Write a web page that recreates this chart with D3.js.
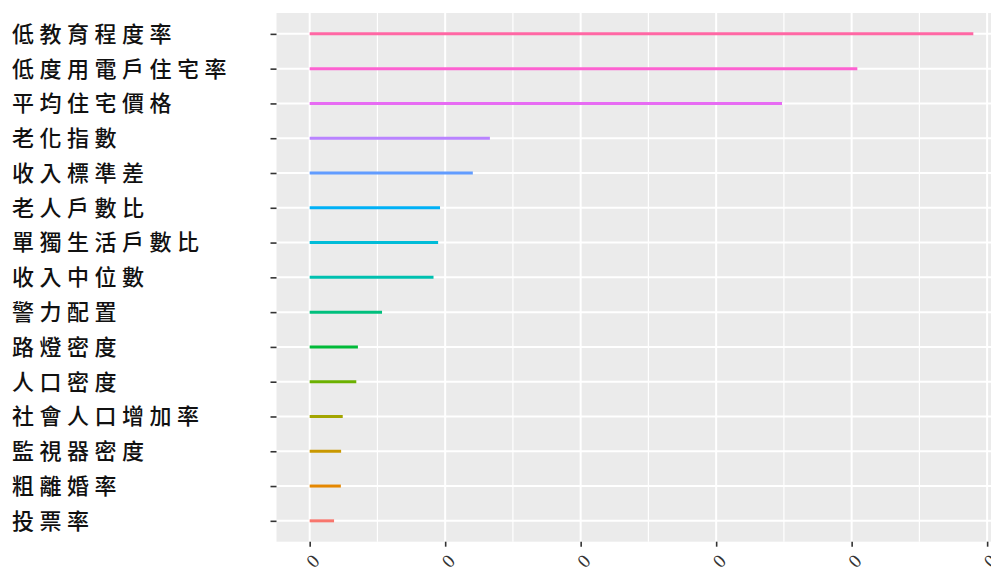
<!DOCTYPE html>
<html>
<head>
<meta charset="utf-8">
<script src="https://cdn.jsdelivr.net/npm/d3@7"></script>
<style>
  html, body { margin: 0; padding: 0; background: #ffffff; overflow: hidden; }
  svg { display: block; }
</style>
</head>
<body>
<div id="chart"></div>
<script>
// Variable importance, ordered from least (bottom) to most (top)
const categories = [
  "投票率", "粗離婚率", "監視器密度", "社會人口增加率", "人口密度",
  "路燈密度", "警力配置", "收入中位數", "單獨生活戶數比", "老人戶數比",
  "收入標準差", "老化指數", "平均住宅價格", "低度用電戶住宅率", "低教育程度率"
];
const importance = [
  0.00090, 0.00115, 0.00116, 0.00122, 0.00172,
  0.00178, 0.00267, 0.00457, 0.00474, 0.00481,
  0.00602, 0.00665, 0.01743, 0.02021, 0.02449
];
const colors = [
  "#F8766D", "#E58700", "#C99800", "#A3A500", "#6BB100",
  "#00BA38", "#00BF7D", "#00C0AF", "#00BCD8", "#00B0F6",
  "#619CFF", "#B983FF", "#E76BF3", "#FD61D1", "#FF67A4"
];
const xTicks = [0, 0.005, 0.01, 0.015, 0.02, 0.025];

const W = 991, H = 571;
const panel = { left: 276.5, top: 13, width: 730, height: 528.7 };

const svg = d3.select("#chart").append("svg")
  .attr("width", W).attr("height", H);

const data = categories.map((c, i) => ({ cat: c, val: importance[i], color: colors[i] }));

// continuous x with 5% expansion on both sides
const maxV = d3.max(importance);
const pad = maxV * 0.05;
const x = d3.scaleLinear()
  .domain([0 - pad, maxV + pad])
  .range([panel.left, panel.left + panel.width]);

// discrete y with 0.6-unit expansion; first category at the bottom
const n = categories.length;
const step = panel.height / (n - 1 + 1.2);
const y = d3.scalePoint()
  .domain(categories)
  .range([panel.top + panel.height - 0.6 * step, panel.top + 0.6 * step]);

const g = svg.append("g");

// panel background
g.append("rect")
  .attr("x", panel.left).attr("y", panel.top)
  .attr("width", panel.width).attr("height", panel.height)
  .attr("fill", "#EBEBEB");

// minor vertical grid
const minorTicks = xTicks.slice(0, -1).map((t, i) => (t + xTicks[i + 1]) / 2);
g.selectAll("line.minor").data(minorTicks).join("line")
  .attr("class", "minor")
  .attr("x1", d => x(d)).attr("x2", d => x(d))
  .attr("y1", panel.top).attr("y2", panel.top + panel.height)
  .attr("stroke", "#ffffff").attr("stroke-width", 1.2);

// major vertical grid
g.selectAll("line.majorx").data(xTicks).join("line")
  .attr("class", "majorx")
  .attr("x1", d => x(d)).attr("x2", d => x(d))
  .attr("y1", panel.top).attr("y2", panel.top + panel.height)
  .attr("stroke", "#ffffff").attr("stroke-width", 2);

// major horizontal grid
g.selectAll("line.majory").data(categories).join("line")
  .attr("class", "majory")
  .attr("x1", panel.left).attr("x2", panel.left + panel.width)
  .attr("y1", d => y(d)).attr("y2", d => y(d))
  .attr("stroke", "#ffffff").attr("stroke-width", 2);

// segments from zero to importance
g.selectAll("line.seg").data(data).join("line")
  .attr("class", "seg")
  .attr("x1", x(0)).attr("x2", d => x(d.val))
  .attr("y1", d => y(d.cat)).attr("y2", d => y(d.cat))
  .attr("stroke", d => d.color).attr("stroke-width", 3);

// y axis
const yAxis = d3.axisLeft(y).tickSize(6).tickPadding(0).tickFormat("");
const ya = svg.append("g")
  .attr("transform", `translate(${panel.left},0)`)
  .call(yAxis);
ya.select(".domain").remove();
ya.selectAll(".tick line").attr("stroke", "#333333").attr("stroke-width", 1.6);

svg.append("g").selectAll("text").data(categories).join("text")
  .attr("x", 12)
  .attr("y", d => y(d))
  .attr("dy", "0.36em")
  .attr("font-family", "'Noto Sans CJK TC', 'Noto Sans CJK SC', sans-serif")
  .attr("font-size", 22)
  .attr("font-weight", 500)
  .attr("letter-spacing", 5.5)
  .attr("fill", "#111111")
  .text(d => d);

// x axis
const xAxis = d3.axisBottom(x).tickValues(xTicks).tickSize(5).tickFormat("");
const xa = svg.append("g")
  .attr("transform", `translate(0,${panel.top + panel.height})`)
  .call(xAxis);
xa.select(".domain").remove();
xa.selectAll(".tick line").attr("stroke", "#333333").attr("stroke-width", 1.6);

const fmt = d3.format(".0f");
svg.append("g").selectAll("text").data(xTicks).join("text")
  .attr("transform", d => `translate(${x(d) + 3},${561}) rotate(-45)`)
  .attr("text-anchor", "middle")
  .attr("dy", "0.35em")
  .attr("font-family", "'Liberation Serif', serif")
  .attr("font-size", 19)
  .attr("fill", "#333333")
  .text(d => fmt(d));
</script>
</body>
</html>
